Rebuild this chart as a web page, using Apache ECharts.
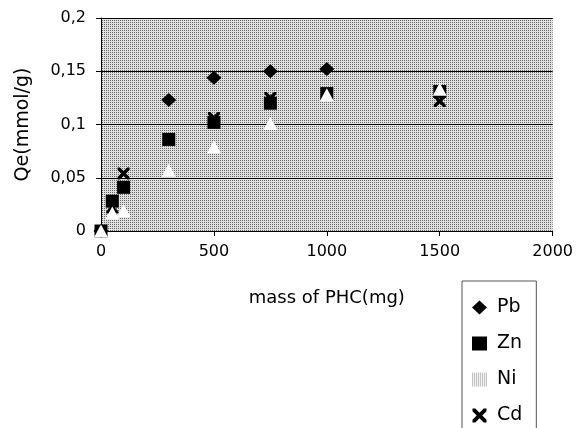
<!DOCTYPE html>
<html><head><meta charset="utf-8">
<script src="https://cdn.jsdelivr.net/npm/echarts@6/dist/echarts.min.js"></script>
<style>html,body{margin:0;padding:0;background:#fff}#c{width:576px;height:428px}</style>
</head><body><div id="c"></div>
<script>
const pbData = [[0,0],[300,0.123],[500,0.144],[750,0.150],[1000,0.152]];
const znData = [[0,0],[50,0.028],[100,0.041],[300,0.086],[500,0.102],[750,0.120],[1000,0.129],[1500,0.131]];
const cdData = [[0,0],[50,0.022],[100,0.054],[300,0.086],[500,0.106],[750,0.125],[1000,0.129],[1500,0.122]];
const niData = [[0,0],[50,0.017],[100,0.019],[300,0.057],[500,0.079],[750,0.101],[1000,0.128],[1500,0.133]];
const seriesNames = ['Pb','Zn','Ni','Cd'];

function makePattern(base, dot) {
  const c = document.createElement('canvas');
  c.width = 2; c.height = 2;
  const g = c.getContext('2d');
  g.fillStyle = base; g.fillRect(0,0,2,2);
  g.fillStyle = dot; g.fillRect(0,0,1,1);
  return {image: c, repeat: 'repeat'};
}
const pattern = makePattern('#e0e0e0', '#666666');
const legendPattern = makePattern('#f0f0f0', '#9a9a9a');

const xPath = 'path://M0,0 L2,0 L5,3 L8,0 L10,0 L10,2 L7,5 L10,8 L10,10 L8,10 L5,7 L2,10 L0,10 L0,8 L3,5 L0,2 Z';
const font = 'DejaVu Sans, Verdana, sans-serif';
const chart = echarts.init(document.getElementById('c'), null, {renderer:'canvas'});
chart.setOption({
  animation: false,
  backgroundColor: '#fff',
  grid: {left: 101, right: 21, top: 18, bottom: 197, show: true, backgroundColor: pattern, borderWidth: 0},
  xAxis: {
    type: 'value', min: 0, max: 2000, interval: 500,
    name: 'mass of PHC(mg)', nameLocation: 'middle', nameGap: 58,
    nameTextStyle: {fontFamily: font, fontSize: 18, color: '#000'},
    axisLine: {show: true, lineStyle: {color: '#000', width: 1}},
    axisTick: {show: true, length: 5, lineStyle: {color: '#000'}},
    axisLabel: {fontFamily: font, fontSize: 16, color: '#000', margin: 13, formatter: v => String(v)},
    splitLine: {show: false}
  },
  yAxis: {
    type: 'value', min: 0, max: 0.2, interval: 0.05,
    name: 'Qe(mmol/g)', nameLocation: 'middle', nameGap: 68,
    nameTextStyle: {fontFamily: font, fontSize: 19, color: '#000'},
    axisLine: {show: true, lineStyle: {color: '#000', width: 1}},
    axisTick: {show: true, length: 5, lineStyle: {color: '#000'}},
    axisLabel: {fontFamily: font, fontSize: 16, color: '#000', margin: 15,
      formatter: v => String(parseFloat(v.toFixed(2))).replace('.', ',')},
    splitLine: {show: true, lineStyle: {color: '#000', width: 1}}
  },
  legend: {
    orient: 'vertical', left: 462, top: 281, width: 73, height: 170,
    backgroundColor: '#fff', borderColor: '#555', borderWidth: 1,
    padding: [17, 14, 20, 10], itemGap: 17, itemWidth: 15, itemHeight: 14,
    textStyle: {fontFamily: font, fontSize: 19, color: '#000', padding: [0,0,0,5]},
    data: [
      {name: 'Pb', icon: 'diamond'},
      {name: 'Zn', icon: 'rect'},
      {name: 'Ni', icon: 'rect', itemStyle: {color: legendPattern}},
      {name: 'Cd', icon: xPath}
    ]
  },
  series: [
    {name: 'Pb', type: 'scatter', data: pbData, symbol: 'diamond', symbolSize: [15,14], itemStyle: {color: '#000', opacity: 1}, z: 2},
    {name: 'Zn', type: 'scatter', data: znData, symbol: 'rect', symbolSize: [13,13], itemStyle: {color: '#000', opacity: 1}, z: 3},
    {name: 'Cd', type: 'scatter', data: cdData, symbol: xPath, symbolSize: [12,12], itemStyle: {color: '#000', opacity: 1}, z: 4},
    {name: 'Ni', type: 'scatter', data: niData, symbol: 'triangle', symbolSize: [14,13], itemStyle: {color: '#fff', opacity: 1}, z: 5}
  ]
});
</script></body></html>
